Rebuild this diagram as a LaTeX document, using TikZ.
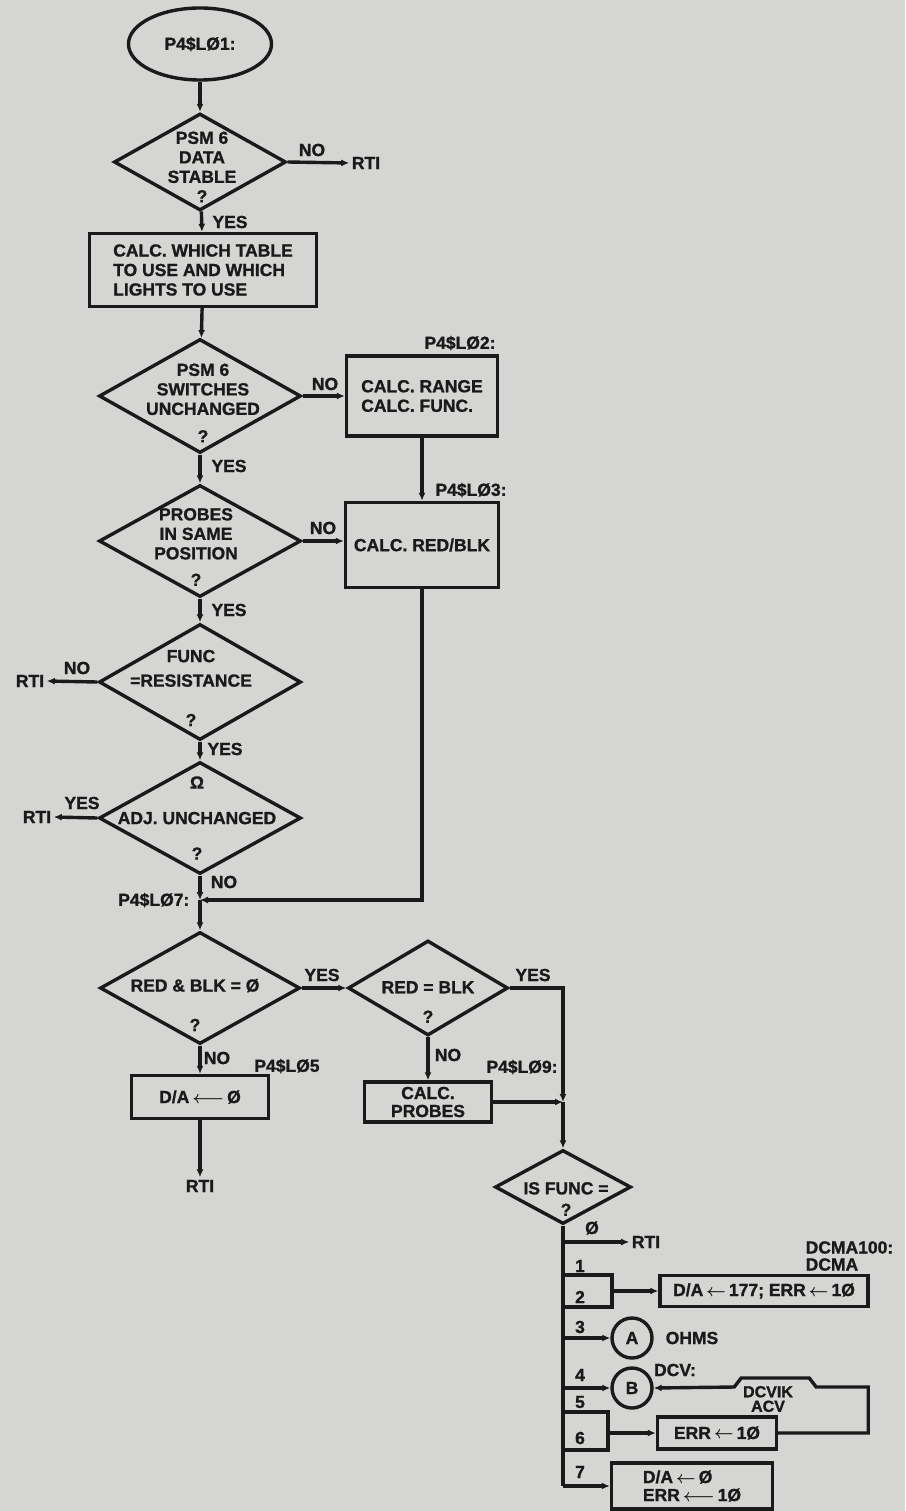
\documentclass[tikz,border=0pt]{standalone}
\usepackage{fontspec}
\setmainfont{Liberation Sans}[BoldFeatures={FakeBold=1.2}]
\usepackage{tikz}
\usetikzlibrary{positioning, arrows.meta, shapes.geometric, calc}
\definecolor{paper}{HTML}{D5D5D3}
\definecolor{ink}{HTML}{1A1A1A}
\newcommand{\asgn}{\,{\boldmath$\leftarrow$}\,}
\newcommand{\asgnlong}{\,{\boldmath$\longleftarrow$}\,}

\begin{document}
\begin{tikzpicture}[x=1pt, y=-1pt, ink, line width=3.4pt,
  every node/.style={font=\bfseries\fontsize{17.5}{19.5}\selectfont, text=ink, inner sep=1pt},
  decision/.style={diamond, draw, inner sep=0pt, minimum width=202pt, minimum height=112pt},
  procbox/.style={draw, rectangle, inner sep=0pt},
  terminal/.style={ellipse, draw, inner sep=0pt, minimum width=143pt, minimum height=72pt},
  connector/.style={circle, draw, inner sep=0pt, minimum size=40pt},
  flow/.style={-{Latex[length=8pt, width=7pt]}}
]
  \fill[paper] (0,0) rectangle (905,1511);
  \useasboundingbox (0,0) rectangle (905,1511);

  % main column
  \node[terminal] (start) at (200,44) {P4\$LØ1:};
  \node[decision, minimum width=172pt, minimum height=97pt] (stable) at (200,162) {};
  \node[align=center] (stabletxt) at (202,167) {PSM 6\\DATA\\STABLE\\?};
  \node (rti1) at (366,163) {RTI};
  \node (no1) at (312,150) {NO};
  \node (yes1) at (230,222) {YES};
  \node[procbox, minimum width=227pt, minimum height=73pt, align=left] (table) at (203,270)
    {CALC. WHICH TABLE\\TO USE AND WHICH\\LIGHTS TO USE};

  \node[decision, minimum height=114pt] (switches) at (200,396) {};
  \node[align=center] (switchestxt) at (203,403) {PSM 6\\SWITCHES\\UNCHANGED\\[8pt]?};
  \node[procbox, minimum width=151pt, minimum height=80pt, align=left] (range) at (422,396)
    {CALC. RANGE\\CALC. FUNC.};
  \node (p2) at (460,343) {P4\$LØ2:};
  \node (no2) at (325,384) {NO};
  \node (yes2) at (229,466) {YES};

  \node[decision] (probes) at (200,541) {};
  \node[align=center] (probestxt) at (196,547) {PROBES\\IN SAME\\POSITION\\[7pt]?};
  \node[procbox, minimum width=153pt, minimum height=85pt] (redblk) at (422,545) {CALC. RED/BLK};
  \node (p3) at (471,490) {P4\$LØ3:};
  \node (no3) at (323,528) {NO};
  \node (yes3) at (229,610) {YES};

  \node[decision, minimum height=116pt] (resist) at (200,682) {};
  \node[align=center] (resisttxt) at (191,688) {FUNC\\[5pt]=RESISTANCE\\[20pt]?};
  \node (rti4) at (30,681) {RTI};
  \node (no4) at (77,668) {NO};
  \node (yes4) at (225,749) {YES};

  \node[decision] (adj) at (200,818) {};
  \node[align=center] (adjtxt) at (197,818) {Ω\\[16pt]ADJ. UNCHANGED\\[16pt]?};
  \node (rti5) at (37,817) {RTI};
  \node (yes5) at (82,803) {YES};
  \node (no5) at (224,882) {NO};
  \coordinate (j7) at (200,900);
  \node[anchor=east] (p7) at (192,900) {P4\$LØ7:};

  % lower part
  \node[decision, minimum width=200pt] (zero) at (200,988) {};
  \node[align=center] (zerotxt) at (195,1005) {RED \& BLK = Ø\\[20pt]?};
  \node[decision, minimum width=160pt, minimum height=95pt] (equal) at (428,988) {};
  \node[align=center] (equaltxt) at (428,1002) {RED = BLK\\[10pt]?};
  \node (yes6) at (322,975) {YES};
  \node (yes7) at (533,975) {YES};
  \node (no6) at (217,1058) {NO};
  \node (no7) at (448,1055) {NO};
  \node[procbox, minimum width=137pt, minimum height=43pt] (dazero) at (200,1097) {D/A\asgnlong Ø};
  \node (p5) at (287,1066) {P4\$LØ5};
  \node (rti6) at (200,1186) {RTI};
  \node[procbox, minimum width=127pt, minimum height=40pt, align=center,
    font=\bfseries\fontsize{17.5}{18}\selectfont] (calcprobes) at (428,1102) {CALC.\\PROBES};
  \coordinate (j9) at (563,1102);
  \node (p9) at (522,1067) {P4\$LØ9:};

  \node[decision, minimum width=136pt, minimum height=74pt] (isfunc) at (563,1187) {};
  \node[align=center] (isfunctxt) at (566,1199) {IS FUNC =\\[2pt]?};

  % function switch
  \coordinate (busend) at (563,1486);
  \coordinate (k0) at (563,1242);
  \coordinate (k1) at (563,1275);
  \coordinate (k2) at (563,1307);
  \coordinate (m12) at (612,1291);
  \coordinate (k3) at (563,1338);
  \coordinate (k4) at (563,1388);
  \coordinate (k5) at (563,1412);
  \coordinate (k6) at (563,1450);
  \coordinate (m56) at (608,1433);

  \node (rti8) at (646,1242) {RTI};
  \node (n0) at (592,1228) {Ø};
  \node (n1) at (580,1266) {1};
  \node (n2) at (580,1297) {2};
  \node (n3) at (580,1327) {3};
  \node (n4) at (580,1375) {4};
  \node (n5) at (580,1402) {5};
  \node (n6) at (580,1438) {6};
  \node (n7) at (580,1472) {7};
  \node[procbox, minimum width=208pt, minimum height=31pt] (dcma) at (764,1291) {D/A\asgn 177; ERR\asgn 1Ø};
  \node[anchor=west, align=left, font=\bfseries\fontsize{17.5}{17}\selectfont] (dcmalbl) at (803,1256) {DCMA100:\\DCMA};
  \node[connector] (ohms) at (632,1338) {A};
  \node (ohmslbl) at (692,1338) {OHMS};
  \node[connector] (dcv) at (632,1388) {B};
  \node (dcvlbl) at (675,1370) {DCV:};
  \node[align=center, font=\bfseries\fontsize{16}{14.5}\selectfont] (dcviklbl) at (768,1399) {DCVIK\\ACV};
  \node[procbox, minimum width=119pt, minimum height=32pt] (err) at (717,1433) {ERR\asgn 1Ø};
  \node[procbox, minimum width=161pt, minimum height=46pt, align=left,
    font=\bfseries\fontsize{17.5}{18}\selectfont] (final) at (692,1486) {D/A\asgn Ø\\ERR\asgnlong 1Ø};

  % connectors
  \draw[flow] (start) -- (stable);
  \draw[flow] (stable.east) -- (rti1.west);
  \draw[flow] (stable) -- (table);
  \draw[flow] (table) -- (switches);
  \draw[flow] (switches.east) -- (range.west);
  \draw[flow] (switches) -- (probes);
  \draw[flow] (range) -- (redblk);
  \draw[flow] (probes.east) -- (probes.east -| redblk.west);
  \draw[flow] (probes) -- (resist);
  \draw[flow] (resist.west) -- (rti4.east);
  \draw[flow] (resist) -- (adj);
  \draw[flow] (adj.west) -- (rti5.east);
  \draw[flow] (adj.south) -- (j7);
  \draw[flow] (redblk.south) |- (j7);
  \draw[flow] (j7) -- (zero.north);
  \draw[flow] (zero.east) -- (equal.west);
  \draw[flow] (zero.south) -- (dazero.north);
  \draw[flow] (dazero.south) -- (rti6.north);
  \draw[flow] (equal.south) -- (calcprobes.north);
  \draw[flow] (equal.east) -| (j9);
  \draw[flow] (calcprobes.east) -- (j9);
  \draw[flow] (j9) -- (isfunc.north);

  \draw (isfunc.south) -- (busend);
  \draw[flow] (k0) -- (rti8.west);
  \draw (k1) -| (m12) |- (k2);
  \draw[flow] (m12) -- (dcma.west);
  \draw[flow] (k3) -- (ohms.west);
  \draw[flow] (k4) -- (dcv.west);
  \draw (k5) -| (m56) |- (k6);
  \draw[flow] (m56) -- (err.west);
  \draw[flow] (err.east) -- ++(90,0) -- ++(0,-46) -- ++(-52,0) -- ++(-7,-9) -- ++(-68,0) -- ++(-7,9) -- (dcv.east);
  \draw[flow] (busend) -- (final.west);
\end{tikzpicture}
\end{document}
